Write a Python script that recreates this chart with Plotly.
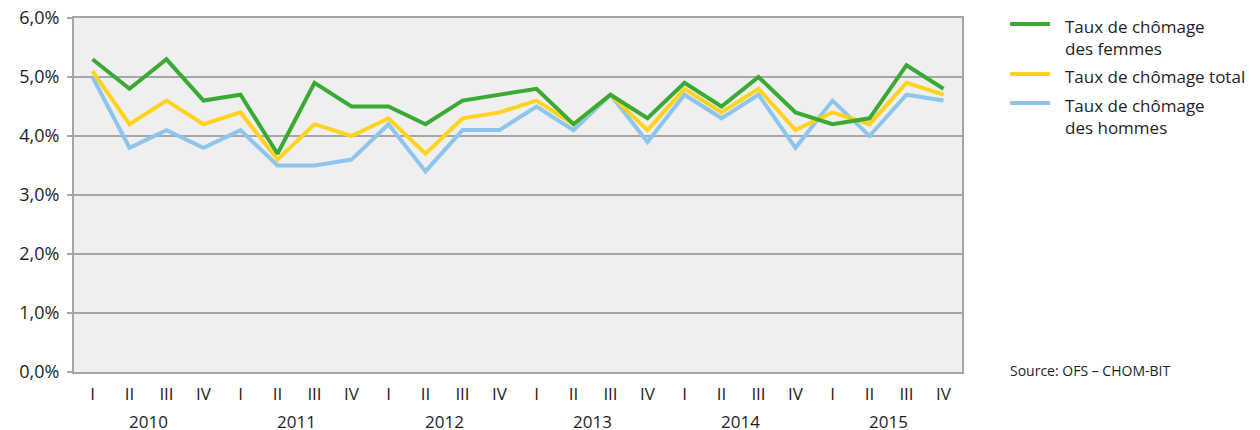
import plotly.graph_objects as go

# --- Data (unemployment rate, %, by quarter 2010-2015) ---
YEARS = ["2010", "2011", "2012", "2013", "2014", "2015"]
QUARTERS = ["I", "II", "III", "IV"]

FEMMES = [5.3, 4.8, 5.3, 4.6, 4.7, 3.7, 4.9, 4.5, 4.5, 4.2, 4.6, 4.7,
          4.8, 4.2, 4.7, 4.3, 4.9, 4.5, 5.0, 4.4, 4.2, 4.3, 5.2, 4.8]
TOTAL = [5.1, 4.2, 4.6, 4.2, 4.4, 3.6, 4.2, 4.0, 4.3, 3.7, 4.3, 4.4,
         4.6, 4.2, 4.7, 4.1, 4.8, 4.4, 4.8, 4.1, 4.4, 4.2, 4.9, 4.7]
HOMMES = [5.0, 3.8, 4.1, 3.8, 4.1, 3.5, 3.5, 3.6, 4.2, 3.4, 4.1, 4.1,
          4.5, 4.1, 4.7, 3.9, 4.7, 4.3, 4.7, 3.8, 4.6, 4.0, 4.7, 4.6]

NAMES = ["Taux de chômage<br>des femmes", "Taux de chômage total",
         "Taux de chômage<br>des hommes"]
SOURCE = "Source: OFS – CHOM-BIT"

# --- Style ---
GREEN = "#3aaa35"
YELLOW = "#ffd220"
BLUE = "#8ec5ec"
PLOT_BG = "#efefef"
GRID = "#a6a6a6"
INK = "#1e1e1e"
FONT = "'Open Sans', Lato, sans-serif"

# plot box in page pixels: left 74, right 962, top 18, bottom 372.
# the page body has an 8px margin, so the figure itself starts at (8, 8)
PW, PH = 888, 354


def px_x(px):
    return (px - 74) / PW


def px_y(py):
    return (372 - py) / PH


x = list(range(len(YEARS) * len(QUARTERS)))
tick_text = [q for _ in YEARS for q in QUARTERS]

series = [(FEMMES, NAMES[0], GREEN), (TOTAL, NAMES[1], YELLOW),
          (HOMMES, NAMES[2], BLUE)]

fig = go.Figure()
# drawn bottom-up so green sits on top
for vals, name, color in reversed(series):
    fig.add_trace(go.Scatter(
        x=x, y=vals, mode="lines", name=name,
        line=dict(color=color, width=4), showlegend=False,
    ))

# year labels centred under each group of four quarters
# (fixed box height keeps the label box inside the figure's bottom edge)
for i, yr in enumerate(YEARS):
    fig.add_annotation(
        x=i * len(QUARTERS) + (len(QUARTERS) - 1) / 2, y=px_y(421),
        xref="x", yref="paper", text=yr, showarrow=False, yanchor="middle",
        height=16, font=dict(size=17, color=INK),
    )

# hand-drawn legend: key line on the first text line of each entry
key_rows = [24, 74, 103]
for (vals, name, color), row in zip(series, key_rows):
    fig.add_shape(type="line", xref="paper", yref="paper",
                  x0=px_x(1010), x1=px_x(1050), y0=px_y(row), y1=px_y(row),
                  line=dict(color=color, width=4))
    fig.add_annotation(
        x=px_x(1063), y=px_y(row - 11), xref="paper", yref="paper",
        text=name, showarrow=False, xanchor="left", yanchor="top",
        align="left", font=dict(size=17, color=INK),
    )

fig.add_annotation(
    x=px_x(1008), y=px_y(370), xref="paper", yref="paper", text=SOURCE,
    showarrow=False, xanchor="left", yanchor="middle",
    font=dict(size=14, color=INK),
)

fig.update_layout(
    width=1252, height=422,
    margin=dict(l=66, r=298, t=10, b=58),
    paper_bgcolor="white", plot_bgcolor=PLOT_BG,
    font=dict(family=FONT, size=17, color=INK),
    separators=", ",
    showlegend=False,
    xaxis=dict(
        range=[-0.5, len(x) - 0.5], tickvals=x, ticktext=tick_text,
        showgrid=False, zeroline=False, ticks="", automargin=False,
        showline=True, linecolor=GRID, linewidth=2, mirror=True,
        ticklabelstandoff=6,
    ),
    yaxis=dict(
        range=[0, 6], dtick=1, tickformat=".1f", ticksuffix="%",
        showgrid=True, gridcolor=GRID, gridwidth=1.5, zeroline=False,
        ticks="outside", ticklen=5, tickcolor=GRID, tickwidth=1.5,
        showline=True, linecolor=GRID, linewidth=2, mirror=True,
        automargin=False, ticklabelstandoff=4, ticklabeloverflow="allow",
        tickfont=dict(size=18),
    ),
)

fig.write_html("out.html")
